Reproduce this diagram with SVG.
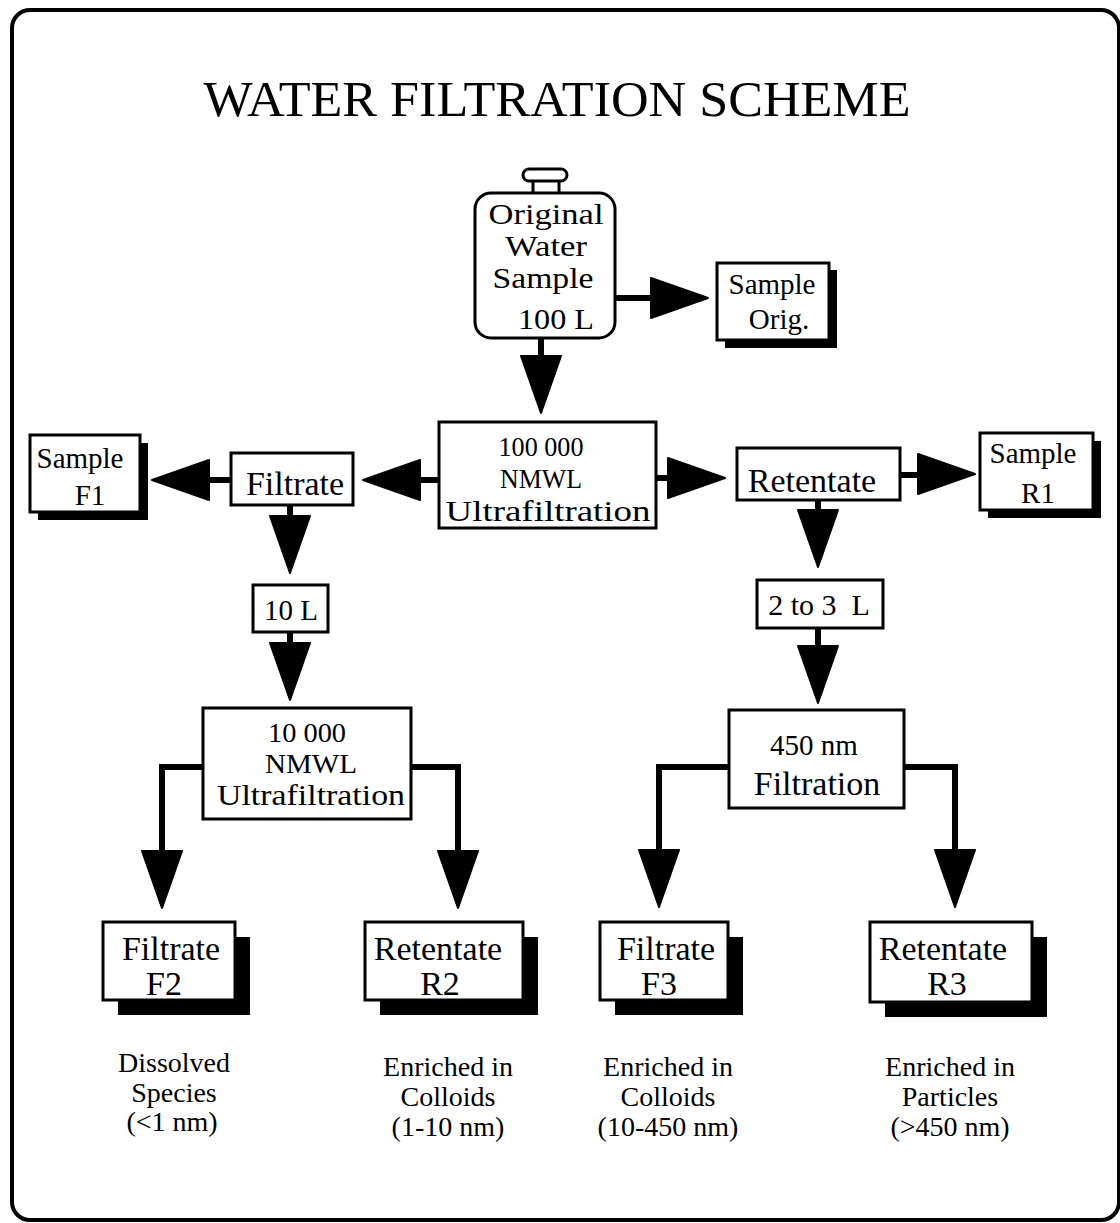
<svg xmlns="http://www.w3.org/2000/svg" xmlns:xlink="http://www.w3.org/1999/xlink" width="1120" height="1223" viewBox="0 0 1120 1223">
<style>
text{font-family:"Liberation Serif","Times New Roman",serif;fill:#000;text-anchor:middle}
.box{fill:#fff;stroke:#000;stroke-width:3}
.sh{fill:#000}
.ln{fill:none;stroke:#000;stroke-width:6;stroke-linejoin:miter}
.ah{fill:#000;stroke:#000;stroke-width:2;stroke-linejoin:round}
</style>
<defs>
<path id="ah" d="M0,0 L-20,-57 L20,-57 Z"/>
</defs>
<rect x="0" y="0" width="1120" height="1223" fill="#fff"/>
<rect x="12" y="10" width="1107" height="1210" rx="18" fill="none" stroke="#000" stroke-width="4"/>
<text id="title" x="557" y="116" font-size="50" textLength="707" lengthAdjust="spacingAndGlyphs">WATER FILTRATION SCHEME</text>

<g id="connectors">
<path class="ln" d="M541,337 V360"/>
<path class="ln" d="M615,298 H656"/>
<path class="ln" d="M438,480 H416"/>
<path class="ln" d="M231,480 H204"/>
<path class="ln" d="M655,478 H674"/>
<path class="ln" d="M900,475 H922"/>
<path class="ln" d="M290,505 V516"/>
<path class="ln" d="M290,632 V646"/>
<path class="ln" d="M818,500 V514"/>
<path class="ln" d="M818,628 V648"/>
<path class="ln" d="M203,767 H162 V856"/>
<path class="ln" d="M411,767 H458 V856"/>
<path class="ln" d="M729,767 H659 V855"/>
<path class="ln" d="M904,767 H955 V855"/>
<use class="ah" href="#ah" transform="translate(541,413)"/>
<use class="ah" href="#ah" transform="translate(708,298) rotate(-90)"/>
<use class="ah" href="#ah" transform="translate(363,480) rotate(90)"/>
<use class="ah" href="#ah" transform="translate(152,480) rotate(90)"/>
<use class="ah" href="#ah" transform="translate(725,478) rotate(-90)"/>
<use class="ah" href="#ah" transform="translate(975,474) rotate(-90)"/>
<use class="ah" href="#ah" transform="translate(290,573)"/>
<use class="ah" href="#ah" transform="translate(290,700)"/>
<use class="ah" href="#ah" transform="translate(818,567)"/>
<use class="ah" href="#ah" transform="translate(818,703)"/>
<use class="ah" href="#ah" transform="translate(162,908)"/>
<use class="ah" href="#ah" transform="translate(458,908)"/>
<use class="ah" href="#ah" transform="translate(659,907)"/>
<use class="ah" href="#ah" transform="translate(955,907)"/>
</g>

<g id="original">
<path d="M533,180 V193 M559,180 V193" stroke="#000" stroke-width="3"/>
<rect x="523" y="169" width="44" height="12" rx="6" fill="#fff" stroke="#000" stroke-width="3"/>
<rect class="box" x="475" y="193" width="140" height="145" rx="16" stroke-width="3.5"/>
<text x="546" y="224" font-size="29" textLength="115" lengthAdjust="spacingAndGlyphs">Original</text>
<text x="546" y="256" font-size="29" textLength="82" lengthAdjust="spacingAndGlyphs">Water</text>
<text x="543" y="288" font-size="29" textLength="101" lengthAdjust="spacingAndGlyphs">Sample</text>
<text x="556" y="329" font-size="30" textLength="76" lengthAdjust="spacingAndGlyphs">100 L</text>
</g>

<g id="sample-orig">
<rect class="sh" x="725" y="270" width="112" height="78"/>
<rect class="box" x="717" y="263" width="112" height="77"/>
<text x="772" y="294" font-size="29">Sample</text>
<text x="779" y="329" font-size="29">Orig.</text>
</g>

<g id="uf100">
<rect class="box" x="439" y="422" width="217" height="106"/>
<text x="541" y="456" font-size="27" textLength="85" lengthAdjust="spacingAndGlyphs">100 000</text>
<text x="541" y="488" font-size="27" textLength="82" lengthAdjust="spacingAndGlyphs">NMWL</text>
<text x="548" y="521" font-size="30" textLength="205" lengthAdjust="spacingAndGlyphs">Ultrafiltration</text>
</g>

<g id="filtrate1">
<rect class="box" x="231" y="453" width="122" height="52"/>
<text x="295" y="495" font-size="34">Filtrate</text>
</g>

<g id="sample-f1">
<rect class="sh" x="38" y="443" width="110" height="77"/>
<rect class="box" x="30" y="435" width="110" height="77"/>
<text x="80" y="468" font-size="29">Sample</text>
<text x="90" y="505" font-size="29">F1</text>
</g>

<g id="retentate1">
<rect class="box" x="737" y="448" width="163" height="52"/>
<text x="812" y="492" font-size="34">Retentate</text>
</g>

<g id="sample-r1">
<rect class="sh" x="988" y="441" width="113" height="77"/>
<rect class="box" x="980" y="433" width="113" height="77"/>
<text x="1033" y="463" font-size="29">Sample</text>
<text x="1038" y="503" font-size="29">R1</text>
</g>

<g id="vol10">
<rect class="box" x="253" y="585" width="75" height="47"/>
<text x="291" y="620" font-size="29">10 L</text>
</g>

<g id="vol23">
<rect class="box" x="757" y="580" width="126" height="48"/>
<text x="819" y="615" font-size="30" xml:space="preserve">2 to 3  L</text>
</g>

<g id="uf10">
<rect class="box" x="203" y="708" width="208" height="111"/>
<text x="307" y="742" font-size="27" textLength="78" lengthAdjust="spacingAndGlyphs">10 000</text>
<text x="311" y="773" font-size="27" textLength="92" lengthAdjust="spacingAndGlyphs">NMWL</text>
<text x="311" y="805" font-size="29" textLength="188" lengthAdjust="spacingAndGlyphs">Ultrafiltration</text>
</g>

<g id="filt450">
<rect class="box" x="729" y="710" width="175" height="98"/>
<text x="814" y="755" font-size="29">450 nm</text>
<text x="817" y="795" font-size="34">Filtration</text>
</g>

<g id="f2">
<rect class="sh" x="118" y="937" width="132" height="78"/>
<rect class="box" x="103" y="922" width="132" height="78"/>
<text x="171" y="960" font-size="34">Filtrate</text>
<text x="164" y="995" font-size="34">F2</text>
</g>

<g id="r2">
<rect class="sh" x="380" y="937" width="158" height="78"/>
<rect class="box" x="365" y="922" width="158" height="78"/>
<text x="438" y="960" font-size="34">Retentate</text>
<text x="440" y="995" font-size="34">R2</text>
</g>

<g id="f3">
<rect class="sh" x="615" y="937" width="128" height="78"/>
<rect class="box" x="600" y="922" width="128" height="78"/>
<text x="666" y="960" font-size="34">Filtrate</text>
<text x="659" y="995" font-size="34">F3</text>
</g>

<g id="r3">
<rect class="sh" x="885" y="937" width="162" height="80"/>
<rect class="box" x="870" y="922" width="162" height="80"/>
<text x="943" y="960" font-size="34">Retentate</text>
<text x="947" y="995" font-size="34">R3</text>
</g>

<g id="captions">
<text x="174" y="1072" font-size="28">Dissolved</text>
<text x="174" y="1102" font-size="28">Species</text>
<text x="172" y="1131" font-size="28">(&lt;1 nm)</text>
<text x="448" y="1076" font-size="28">Enriched in</text>
<text x="448" y="1106" font-size="28">Colloids</text>
<text x="448" y="1136" font-size="28">(1-10 nm)</text>
<text x="668" y="1076" font-size="28">Enriched in</text>
<text x="668" y="1106" font-size="28">Colloids</text>
<text x="668" y="1136" font-size="28">(10-450 nm)</text>
<text x="950" y="1076" font-size="28">Enriched in</text>
<text x="950" y="1106" font-size="28">Particles</text>
<text x="950" y="1136" font-size="28">(&gt;450 nm)</text>
</g>
</svg>
